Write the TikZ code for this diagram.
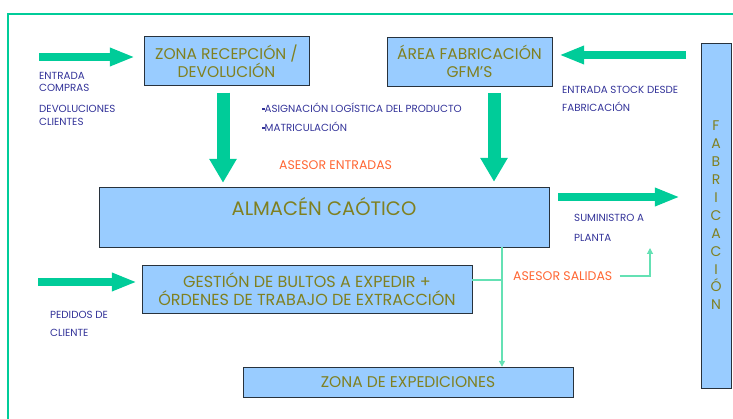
\documentclass[tikz,border=0pt]{standalone}
\usepackage{fontspec}
\setmainfont{Poppins}
\usetikzlibrary{arrows.meta,positioning}
\definecolor{flowgreen}{RGB}{0,204,153}
\definecolor{linegreen}{RGB}{100,225,180}
\definecolor{boxblue}{RGB}{153,204,255}
\definecolor{boxtext}{RGB}{128,128,32}
\definecolor{notenavy}{RGB}{51,51,153}
\definecolor{asesorred}{RGB}{255,102,51}
\definecolor{boxedge}{RGB}{40,50,60}

\begin{document}
\begin{tikzpicture}[x=1pt,y=-1pt,
  zone/.style={draw=boxedge,fill=boxblue,text=boxtext,font=\fontsize{15.5}{18}\selectfont,align=center,inner sep=0pt},
  note/.style={text=notenavy,font=\fontsize{10.3}{12.5}\selectfont,align=left,anchor=west,inner sep=0pt},
  asesor/.style={text=asesorred,font=\fontsize{12.5}{14}\selectfont,inner sep=0pt,anchor=west},
  fatflow/.style={draw=flowgreen,line width=8pt,-{Triangle[length=25pt,width=17pt]}},
  fatdown/.style={draw=flowgreen,line width=13pt,-{Triangle[length=24pt,width=26pt]}},
  thinflow/.style={draw=linegreen,line width=1.2pt}]
  \useasboundingbox (0,0) rectangle (733,419);
  \draw[flowgreen,line width=2pt] (733,14) -- (8,14) -- (8,419);

  % boxes
  \node[zone,minimum width=165pt,minimum height=49pt] (recep) at (226.5,61) {ZONA RECEPCIÓN /\\DEVOLUCIÓN};
  \node[zone,minimum width=165pt,minimum height=49pt] (fabarea) at (469.5,61.5) {ÁREA FABRICACIÓN\\GFM'S};
  \node[zone,minimum width=450pt,minimum height=60pt,font=\fontsize{19.5}{22}\selectfont,text height=14pt,text depth=16pt] (almacen) at (324,217) {ALMACÉN CAÓTICO};
  \node[zone,minimum width=330pt,minimum height=48pt,font=\fontsize{16}{18}\selectfont] (gestion) at (307,289) {GESTIÓN DE BULTOS A EXPEDIR +\\ÓRDENES DE TRABAJO DE EXTRACCIÓN};
  \node[zone,minimum width=330pt,minimum height=30pt] (expedic) at (408,382) {ZONA DE EXPEDICIONES};
  \node[zone,minimum width=30pt,minimum height=345pt,font=\fontsize{14}{17.9}\selectfont] (fabric) at (716,215.5) {F\\A\\B\\R\\I\\C\\A\\C\\I\\Ó\\N};

  % notes
  \node[note] (compnote) at (39,82) {ENTRADA\\COMPRAS};
  \node[note] (devnote) at (39,115.5) {DEVOLUCIONES\\CLIENTES};
  \node[note,font=\fontsize{10.3}{19}\selectfont] (tasknote) at (262,117.5) {\rule[2.5pt]{2.5pt}{2.5pt}ASIGNACIÓN LOGÍSTICA DEL PRODUCTO\\\rule[2.5pt]{2.5pt}{2.5pt}MATRICULACIÓN};
  \node[note,font=\fontsize{10.3}{18}\selectfont] (stocknote) at (562,99) {ENTRADA STOCK DESDE\\FABRICACIÓN};
  \node[note,font=\fontsize{10.3}{20}\selectfont] (supnote) at (574,228) {SUMINISTRO A\\PLANTA};
  \node[note,font=\fontsize{10.3}{18}\selectfont] (pednote) at (50,324) {PEDIDOS DE\\CLIENTE};
  \node[asesor] (asent) at (279,165) {ASESOR ENTRADAS};
  \node[asesor] (asesal) at (513,276) {ASESOR SALIDAS};

  % thick flows
  \coordinate (compras) at (39,57);
  \coordinate (stockin) at (686,55);
  \coordinate (pedidos) at (38,282);
  \draw[fatflow,shorten >=9pt] (compras) -- (compras -| recep.west);
  \draw[fatflow,shorten >=7pt] (stockin) -- (stockin -| fabarea.east);
  \draw[fatflow,shorten >=5pt] (pedidos) -- (pedidos -| gestion.west);
  \draw[fatflow,shorten <=9pt,shorten >=21pt] ([yshift=20pt]almacen.east) -- ([yshift=20pt]almacen.east -| fabric.west);
  \draw[fatdown,shorten <=7pt,shorten >=4pt] ([xshift=-3.5pt]recep.south) -- ([xshift=-3.5pt]recep.south |- almacen.north);
  \draw[fatdown,shorten <=7pt,shorten >=5pt] ([xshift=24.5pt]fabarea.south) -- ([xshift=24.5pt]fabarea.south |- almacen.north);

  % thin links
  \coordinate (split) at (502,280);
  \coordinate (plantup) at (650,248);
  \draw[thinflow] (gestion.east |- split) -- (split);
  \draw[thinflow,-{Triangle[length=6pt,width=6pt]}] (almacen.south -| split) -- (expedic.north -| split);
  \draw[thinflow,-{Triangle[length=6pt,width=6pt]}] ([xshift=7pt]asesal.east) -| (plantup);
\end{tikzpicture}
\end{document}
